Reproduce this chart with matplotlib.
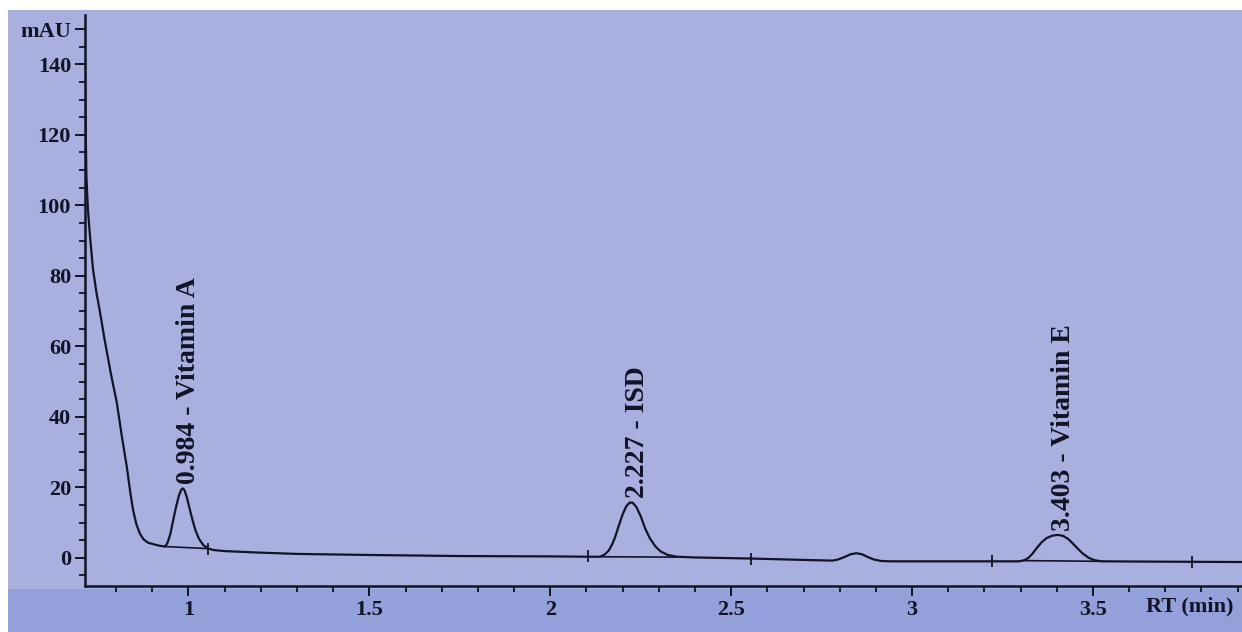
import matplotlib.pyplot as plt
from matplotlib.patches import Rectangle
from matplotlib.ticker import FixedLocator, MultipleLocator

# chromatogram trace (RT in min, signal in mAU)
rt = [0.714, 0.716, 0.718, 0.722, 0.728, 0.736, 0.746, 0.755, 0.768, 0.786,
      0.802, 0.815, 0.830, 0.840, 0.847, 0.856, 0.866, 0.876, 0.888, 0.905,
      0.921, 0.935,
      0.942, 0.950, 0.958, 0.966, 0.974, 0.980, 0.984, 0.989, 0.996, 1.004,
      1.012, 1.020, 1.030, 1.042, 1.055, 1.070,
      1.10, 1.19, 1.30, 1.50, 1.75, 2.00, 2.12,
      2.136, 2.150, 2.162, 2.172, 2.180, 2.190, 2.200, 2.210, 2.220, 2.228,
      2.238, 2.250, 2.262, 2.275, 2.290, 2.305, 2.325, 2.350, 2.40,
      2.55, 2.70, 2.78,
      2.795, 2.815, 2.830, 2.846, 2.862, 2.878, 2.895, 2.915, 2.94,
      3.10, 3.295,
      3.31, 3.322, 3.333, 3.345, 3.358, 3.372, 3.388, 3.403, 3.418, 3.432,
      3.445, 3.458, 3.472, 3.488, 3.505, 3.525,
      3.70, 3.92]
mau = [140, 120, 108, 99, 91, 82, 75, 70, 62, 52,
       44, 35, 25.5, 18, 13.5, 9.5, 6.8, 5.2, 4.3, 3.8,
       3.4, 3.2,
       4.2, 6.8, 10.8, 14.6, 17.8, 19.3, 19.7, 19.2, 17.0, 13.6,
       10.4, 7.6, 5.2, 3.5, 2.6, 2.2,
       1.9, 1.5, 1.1, 0.8, 0.5, 0.4, 0.3,
       0.3, 0.9, 2.1, 4.0, 6.1, 9.3, 12.3, 14.6, 15.7, 15.6,
       14.4, 11.8, 8.4, 5.6, 3.3, 1.8, 0.8, 0.3, 0.1,
       -0.2, -0.6, -0.8,
       -0.5, 0.3, 1.0, 1.3, 1.0, 0.2, -0.5, -0.9, -1.0,
       -1.0, -1.0,
       -0.7, 0.0, 1.2, 2.8, 4.4, 5.6, 6.3, 6.5, 6.2, 5.3,
       4.0, 2.6, 1.2, 0.0, -0.7, -1.0,
       -1.1, -1.2]

# labelled peaks
peak_rt = [0.984, 2.227, 3.403]
peak_top = [19.7, 15.7, 6.5]
peak_name = ['Vitamin A', 'ISD', 'Vitamin E']

# integration baselines (start/end of each labelled peak)
base_start = [0.935, 2.136, 3.31]
base_start_y = [3.2, 0.3, -0.8]
base_end = [1.055, 2.350, 3.525]
base_end_y = [2.6, 0.2, -1.0]

# integration event marks on the trace
event_rt = [1.055, 2.105, 2.555, 3.220, 3.775]
event_y = [2.6, 0.4, -0.2, -1.0, -1.1]

x_ticks = [1, 1.5, 2, 2.5, 3, 3.5]
x_labels = ['1', '1.5', '2', '2.5', '3', '3.5']
y_ticks = [0, 20, 40, 60, 80, 100, 120, 140, 150]
y_labels = ['0', '20', '40', '60', '80', '100', '120', '140', 'mAU']

ink = '#121326'
paper = '#a9b0df'
plt.rcParams['font.family'] = ['Liberation Serif', 'DejaVu Serif']
plt.rcParams['font.weight'] = 'bold'

fig = plt.figure(figsize=(12.42, 6.32), dpi=100, facecolor='white')
# photographed paper: light strip at top/left, darker strip at the bottom
fig.patches.append(Rectangle((8 / 1242, 0), 1, 1 - 10 / 632, transform=fig.transFigure,
                             facecolor=paper, edgecolor='none', zorder=-10))
fig.patches.append(Rectangle((8 / 1242, 0), 1, 43 / 632, transform=fig.transFigure,
                             facecolor='#94a0da', edgecolor='none', zorder=-9))

ax = fig.add_axes([85 / 1242, 46 / 632, 1 - 85 / 1242, 1 - 61 / 632])
ax.set_facecolor('none')

ax.plot(rt, mau, color=ink, lw=1.6, zorder=3)
for x0, y0, x1, y1 in zip(base_start, base_start_y, base_end, base_end_y):
    ax.plot([x0, x1], [y0, y1], color=ink, lw=1.2, zorder=2)
ax.plot(event_rt, event_y, ls='none', marker='|', ms=8, mew=1.3, color=ink)

for r, top, name in zip(peak_rt, peak_top, peak_name):
    ax.annotate(f'{r:.3f} - {name}', xy=(r, top), xytext=(4, 3),
                textcoords='offset points', rotation=90, ha='center', va='bottom',
                fontsize=20, fontweight='bold', color=ink)

ax.set_xlim(0.714, 3.912)
ax.set_ylim(-8, 154)

ax.xaxis.set_major_locator(FixedLocator(x_ticks))
ax.set_xticklabels(x_labels)
ax.xaxis.set_minor_locator(MultipleLocator(0.1))
ax.yaxis.set_major_locator(FixedLocator(y_ticks))
ax.set_yticklabels(y_labels)
ax.yaxis.set_minor_locator(MultipleLocator(5))

ax.tick_params(which='major', length=7, width=1.4, color=ink, labelcolor=ink,
               labelsize=16, pad=3)
ax.tick_params(which='minor', length=4.5, width=1.3, color=ink)

for side in ['top', 'right']:
    ax.spines[side].set_visible(False)
for side in ['left', 'bottom']:
    ax.spines[side].set_color(ink)
    ax.spines[side].set_linewidth(1.8)

ax.set_xlabel('RT (min)', fontsize=16, fontweight='bold', color=ink)
ax.xaxis.set_label_coords(0.955, -0.018)
ax.xaxis.label.set_va('top')

fig.savefig('out.png', dpi=100, facecolor=fig.get_facecolor())
